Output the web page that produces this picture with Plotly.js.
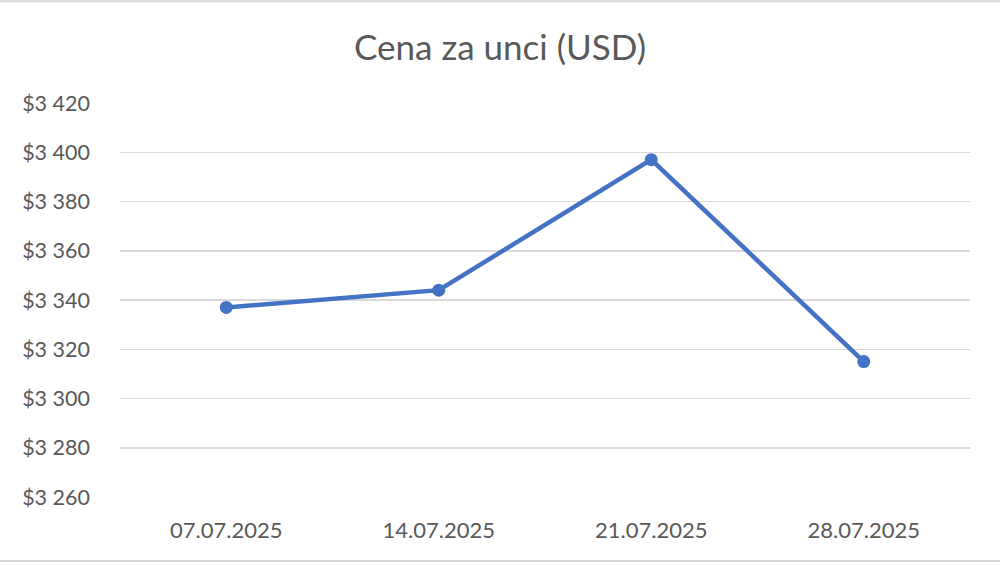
<!DOCTYPE html>
<html>
<head>
<meta charset="utf-8">
<script src="https://cdn.plot.ly/plotly-3.0.1.min.js"></script>
<style>
html,body{margin:0;padding:0;background:#fff;}
#chart{width:1000px;height:565px;}
</style>
</head>
<body>
<div id="chart"></div>
<script>
const dates = ["07.07.2025", "14.07.2025", "21.07.2025", "28.07.2025"];
const prices = [3337, 3344, 3397, 3315];
const yTicks = [3260, 3280, 3300, 3320, 3340, 3360, 3380, 3400, 3420];
const yTickText = ["$3 260", "$3 280", "$3 300", "$3 320", "$3 340", "$3 360", "$3 380", "$3 400", "$3 420"];

const trace = {
  x: dates,
  y: prices,
  type: 'scatter',
  mode: 'lines+markers',
  line: {color: '#4472C4', width: 4.5},
  marker: {color: '#4472C4', size: 13},
  hoverinfo: 'x+y'
};

const FONT = 'Lato, "Open Sans", sans-serif';

const layout = {
  width: 1000,
  height: 565,
  paper_bgcolor: '#ffffff',
  plot_bgcolor: '#ffffff',
  margin: {l: 120, r: 30, t: 103, b: 68},
  showlegend: false,
  font: {family: FONT, color: '#595959'},
  title: {
    text: 'Cena za unci (USD)',
    x: 0.5, xref: 'container', xanchor: 'center',
    y: 0.915, yref: 'container', yanchor: 'middle',
    font: {size: 35, color: '#595959', family: FONT}
  },
  xaxis: {
    type: 'category',
    range: [-0.5, 3.5],
    showgrid: false,
    zeroline: false,
    showline: false,
    ticks: '',
    ticklabelstandoff: 18,
    tickfont: {size: 22, color: '#595959', family: FONT}
  },
  yaxis: {
    range: [3260, 3420],
    tickvals: yTicks,
    ticktext: yTickText,
    showgrid: true,
    gridcolor: '#d9d9d9',
    gridwidth: 1.5,
    zeroline: false,
    showline: false,
    ticks: '',
    ticklabelstandoff: 29,
    tickfont: {size: 21.5, color: '#595959', family: FONT}
  },
  shapes: [
    {type: 'line', xref: 'paper', yref: 'paper', x0: -0.15, x1: 1.04, y0: -0.1625, y1: -0.1625,
     line: {color: '#d4d4d4', width: 2}},
    {type: 'line', xref: 'paper', yref: 'paper', x0: -0.15, x1: 1.04, y0: 1.258, y1: 1.258,
     line: {color: '#d4d4d4', width: 2}}
  ]
};

Plotly.newPlot('chart', [trace], layout, {displayModeBar: false, staticPlot: true});
</script>
</body>
</html>
